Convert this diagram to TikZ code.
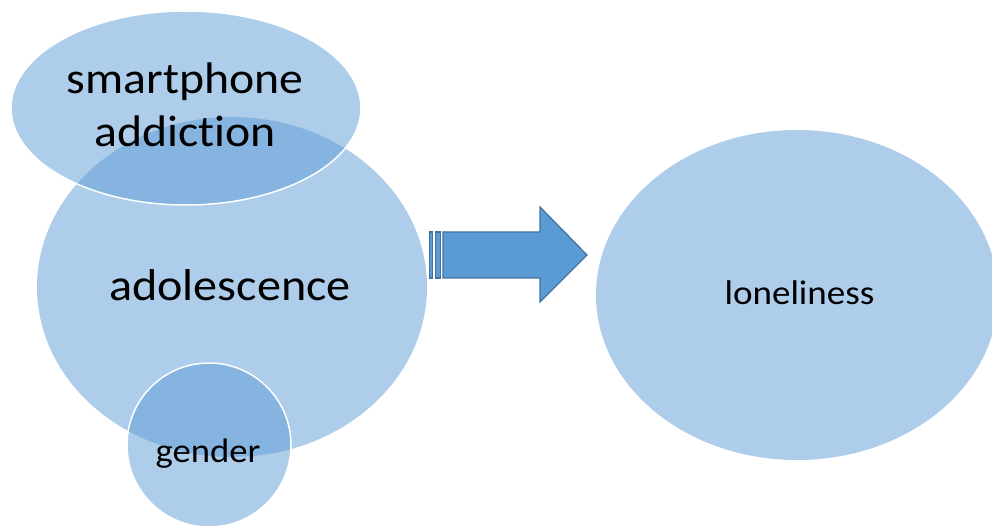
\documentclass[tikz,border=0pt]{standalone}
\usepackage{fontspec}
\setmainfont{Carlito}[Ligatures=NoCommon]
\usetikzlibrary{shapes.geometric}
\definecolor{blobfill}{HTML}{5B9BD5}
\definecolor{arrowline}{HTML}{41719C}
\tikzset{
  blob/.style={ellipse, fill=blobfill, fill opacity=0.5, text opacity=1, inner sep=0pt},
  rimmed/.style={draw=white, line width=1.5pt},
  lbl/.style={anchor=base, text=black, inner sep=0pt, align=center},
  arrowpart/.style={fill=blobfill, draw=arrowline, line width=1.2pt, line join=miter}
}
\newcommand{\wide}[1]{\scalebox{1.08}[1]{#1}}
\begin{document}
\begin{tikzpicture}[x=1pt,y=1pt]
\useasboundingbox (0,0) rectangle (992,525);
\clip (0,0) rectangle (992,525);
% shapes
\node[blob, minimum width=390pt, minimum height=340pt] (adol) at (232,238) {};
\node[blob, rimmed, minimum width=350pt, minimum height=194pt] (smart) at (186,417) {};
\node[blob, rimmed, minimum width=164pt, minimum height=164pt] (gender) at (209,80) {};
\node[blob, minimum width=402pt, minimum height=330pt] (lonely) at (797,230) {};
% labels
\node[lbl, font=\fontsize{44.2}{53}\selectfont] (tsmart) at (185,378) {\wide{smartphone}\\\wide{addiction}};
\node[lbl, font=\fontsize{44.6}{53}\selectfont] (tadol) at (230,224.5) {\wide{adolescence}};
\node[lbl, font=\fontsize{34}{40}\selectfont] (tgender) at (208,63) {\wide{gender}};
\node[lbl, font=\fontsize{34.3}{41}\selectfont] (tlonely) at (799.5,220) {\wide{loneliness}};
% striped block arrow
\draw[arrowpart] (429.5,247) rectangle (432.5,293);
\draw[arrowpart] (435.5,247) rectangle (440.5,293);
\draw[arrowpart] (443,247) -- (540,247) -- (540,223) -- (587,270) -- (540,318) -- (540,293) -- (443,293) -- cycle;
\end{tikzpicture}
\end{document}
